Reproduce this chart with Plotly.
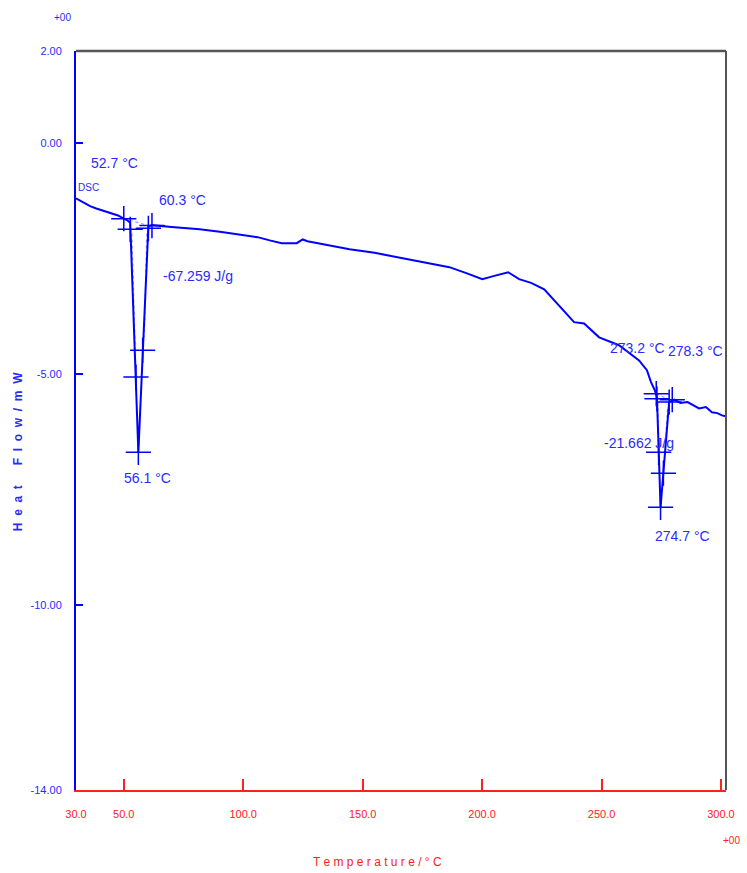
import plotly.graph_objects as go

# DSC heat-flow trace (temperature in °C, heat flow in mW)
temperature = [30.0, 33.0, 35.9, 38.5, 42.1, 45.0, 47.6, 49.6, 51.3, 52.7,
               56.1, 60.3, 61.8, 70.0, 81.8, 91.0, 100.6, 106.0, 111.1, 116.1,
               122.4, 124.9, 126.9, 135.0, 144.5, 155.0, 165.4, 176.0, 186.3,
               193.4, 200.1, 204.3, 210.9, 215.5, 220.5, 226.0, 232.3, 238.5,
               242.7, 249.0, 257.3, 265.7, 269.0, 270.7, 272.4, 273.2, 274.7,
               278.3, 280.5, 283.0, 286.0, 288.0, 290.8, 293.7, 296.2, 298.5,
               300.4, 302.0]
heat_flow = [-1.19, -1.28, -1.36, -1.41, -1.47, -1.51, -1.56, -1.62, -1.66, -1.72,
             -6.69, -1.80, -1.77, -1.81, -1.86, -1.92, -1.99, -2.03, -2.10, -2.16,
             -2.16, -2.08, -2.12, -2.20, -2.29, -2.37, -2.47, -2.57, -2.68,
             -2.81, -2.94, -2.88, -2.79, -2.94, -3.02, -3.16, -3.53, -3.87,
             -3.90, -4.20, -4.37, -4.70, -4.91, -5.17, -5.36, -5.50, -7.88,
             -5.60, -5.55, -5.62, -5.60, -5.66, -5.74, -5.71, -5.82, -5.84,
             -5.89, -5.91]

# analysis cursors placed on the two endotherms
cursor_t = [50.0, 52.7, 55.1, 56.1, 57.9, 60.3, 61.8,
            272.9, 273.2, 273.9, 274.7, 275.9, 278.3, 279.6]
cursor_hf = [-1.63, -1.86, -5.06, -6.69, -4.48, -1.84, -1.78,
             -5.42, -5.53, -6.69, -7.88, -7.14, -5.60, -5.55]

# partial-area guide segments (None separates segments)
guide_t = [50.0, 61.8, None, 53.4, 55.3, None, 59.6, 58.6, None,
           272.9, 279.6, None, 273.5, 274.2, None, 277.6, 276.6]
guide_hf = [-1.63, -1.80, None, -1.95, -5.4, None, -1.95, -4.2, None,
            -5.42, -5.58, None, -5.6, -7.0, None, -5.75, -6.6]

# result labels: (temperature, heat flow, text)
label_t = [46.3, 74.7, 81.0, 60.1, 265.2, 289.5, 265.7, 283.7]
label_hf = [-0.43, -1.23, -2.88, -7.25, -4.44, -4.50, -6.49, -8.51]
label_text = ["52.7 °C", "60.3 °C", "-67.259 J/g", "56.1 °C",
              "273.2 °C", "278.3 °C", "-21.662 J/g", "274.7 °C"]

y_ticks = [2.0, 0.0, -5.0, -10.0, -14.0]
y_tick_text = ["2.00", "0.00", "-5.00", "-10.00", "-14.00"]
x_ticks = [30, 50, 100, 150, 200, 250, 300]
x_tick_text = ["30.0", "50.0", "100.0", "150.0", "200.0", "250.0", "300.0"]

BLUE = "#0000ff"
TXT_BLUE = "#2a2aff"
RED = "#ff2020"
TICK_FONT = "Liberation Sans Narrow, Arial Narrow, Liberation Sans, sans-serif"
TEXT_FONT = "Liberation Sans, Arial, sans-serif"

# plot-area geometry in pixels, used to place free text in paper units
W, H = 747, 873
L, R, T, B = 76, 19, 51, 83
PW, PH = W - L - R, H - T - B


def px(x):
    return (x - L) / PW


def py(y):
    return (H - B - y) / PH


fig = go.Figure()

fig.add_trace(go.Scatter(
    x=guide_t, y=guide_hf, mode="lines",
    line=dict(color="#9a9aff", width=1.2, dash="dot"),
    hoverinfo="skip", showlegend=False))

fig.add_trace(go.Scatter(
    x=temperature, y=heat_flow, mode="lines",
    line=dict(color=BLUE, width=2), showlegend=False))

fig.add_trace(go.Scatter(
    x=cursor_t, y=cursor_hf, mode="markers",
    marker=dict(symbol="cross-thin", size=18, color=BLUE,
                line=dict(color=BLUE, width=1.5)),
    showlegend=False))

for t, hf, txt in zip(label_t, label_hf, label_text):
    fig.add_annotation(x=t, y=hf, xref="x", yref="y", text=txt,
                       showarrow=False,
                       font=dict(family=TEXT_FONT, size=14, color=TXT_BLUE))

fig.add_annotation(x=30, y=-0.95, xref="x", yref="y", text="DSC",
                   xanchor="left", showarrow=False,
                   font=dict(family=TICK_FONT, size=10, color=TXT_BLUE))

# exponent markers and axis titles
paper_text = dict(xref="paper", yref="paper", xanchor="center",
                  yanchor="middle", showarrow=False)
fig.add_annotation(x=px(62), y=py(18), text="+00", **paper_text,
                   font=dict(family=TICK_FONT, size=10, color=TXT_BLUE))
fig.add_annotation(x=px(734), y=py(840), text="+00", **paper_text,
                   font=dict(family=TICK_FONT, size=10, color=RED))
fig.add_annotation(x=px(18), y=py(452), textangle=-90, **paper_text,
                   text="H  e  a  t      F  l  o  w  /  m  W",
                   font=dict(family=TEXT_FONT, size=12, color=TXT_BLUE,
                             weight="bold"))
fig.add_annotation(x=px(378), y=py(862), **paper_text,
                   text="T e m p e r a t u r e / ° C",
                   font=dict(family=TEXT_FONT, size=12, color=RED))

# frame: top and right borders
fig.add_shape(type="line", xref="paper", yref="paper", x0=0, x1=1, y0=1, y1=1,
              line=dict(color="#555555", width=2.5))
fig.add_shape(type="line", xref="paper", yref="paper", x0=1, x1=1, y0=0, y1=1,
              line=dict(color="#555555", width=2))

fig.update_xaxes(range=[30, 302.1], tickvals=x_ticks, ticktext=x_tick_text,
                 showgrid=False, zeroline=False, showline=True,
                 linecolor=RED, linewidth=2, ticks="inside", ticklen=11,
                 tickcolor=RED, tickwidth=1.5, ticklabelstandoff=13,
                 tickfont=dict(family=TICK_FONT, size=11, color=RED))
fig.update_yaxes(range=[-14, 2], tickvals=y_ticks, ticktext=y_tick_text,
                 showgrid=False, zeroline=False, showline=True,
                 linecolor=BLUE, linewidth=2, ticks="inside", ticklen=7,
                 tickcolor=BLUE, tickwidth=1.5, ticklabelstandoff=10,
                 tickfont=dict(family=TICK_FONT, size=11, color=TXT_BLUE))

fig.update_layout(width=W, height=H,
                  margin=dict(l=L, r=R, t=T, b=B),
                  paper_bgcolor="white", plot_bgcolor="white",
                  showlegend=False)

fig.write_html("out.html")
